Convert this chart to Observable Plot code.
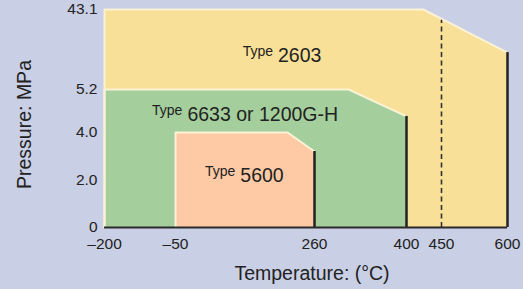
<!DOCTYPE html>
<html>
<head>
<meta charset="utf-8">
<script src="https://cdn.jsdelivr.net/npm/d3@7"></script>
<script src="https://cdn.jsdelivr.net/npm/@observablehq/plot@0.6"></script>
<style>
  html, body { margin: 0; padding: 0; background: #c9cfe4; }
  #chart { width: 523px; height: 289px; overflow: hidden; }
</style>
</head>
<body>
<div id="chart"></div>
<script>
// Tick values (axes are piecewise / non-linear in the original figure)
const tempTicks = [-200, -50, 260, 400, 450, 600];
const pressureTicks = [0, 2.0, 4.0, 5.2, 43.1];

// Region outlines (top boundary), temperature °C and pressure MPa
const type2603Temp = [-200, 424, 600];
const type2603Press = [43.1, 43.1, 22.7];
const type6633Temp = [-200, 312, 400];
const type6633Press = [5.2, 5.2, 4.45];
const type5600Temp = [-50, 200, 260];
const type5600Press = [4.0, 4.0, 3.2];

// Dashed reference line
const dashedTemp = [450];
const dashedTopPress = 38;

// Region labels
const typeNames = ["2603", "6633 or 1200G-H", "5600"];
const labelTemp = [173, -29, 89];
const labelPress = [18.1, 4.31, 1.91];

const xLabel = "Temperature: (°C)";
const yLabel = "Pressure: MPa";

const regions = [
  {t: type2603Temp, p: type2603Press, fill: "#f8e098"},
  {t: type6633Temp, p: type6633Press, fill: "#a4cf9c"},
  {t: type5600Temp, p: type5600Press, fill: "#fecaa6"}
].map(r => ({...r, pts: r.t.map((t, i) => ({t, p: r.p[i]}))}));

const labels = typeNames.map((name, i) => ({name, t: labelTemp[i], p: labelPress[i]}));

const marks = [];
for (const r of regions) {
  marks.push(Plot.areaY(r.pts, {x: "t", y1: 0, y2: "p", fill: r.fill}));
}
for (const r of regions) {
  const outline = [{t: r.t[0], p: 0}, ...r.pts];
  marks.push(Plot.line(outline, {x: "t", y: "p", stroke: "#fbf2d6", strokeWidth: 2}));
}
for (const r of regions) {
  const last = r.pts[r.pts.length - 1];
  marks.push(Plot.ruleX([last], {x: "t", y1: 0, y2: "p", stroke: "#222", strokeWidth: 2.5}));
}
marks.push(Plot.ruleX(dashedTemp, {y1: 0, y2: dashedTopPress, stroke: "#333", strokeWidth: 1.6, strokeDasharray: "5,3.5"}));
marks.push(Plot.ruleY([0], {stroke: "#2a2a2a", strokeWidth: 2}));

marks.push(Plot.text(labels, {x: "t", y: "p", text: () => "Type", textAnchor: "end", lineAnchor: "bottom", dx: -2.5, dy: -6, fontSize: 14, fill: "#222"}));
marks.push(Plot.text(labels, {x: "t", y: "p", text: "name", textAnchor: "start", lineAnchor: "bottom", dx: 2.5, fontSize: 19.5, fill: "#222"}));

marks.push(Plot.axisX({ticks: tempTicks, tickSize: 0, tickPadding: 10, label: null, tickFormat: d => d < 0 ? "\u2013" + Math.abs(d) : String(d), fontSize: 15.5, fill: "#222"}));
marks.push(Plot.axisY({ticks: pressureTicks, tickSize: 0, tickPadding: 7, label: null, tickFormat: d => d === 0 ? "0" : d.toFixed(1), fontSize: 15.5, fill: "#222"}));

marks.push(Plot.text([xLabel], {frameAnchor: "bottom", textAnchor: "middle", lineAnchor: "bottom", dx: 6, dy: 52, fontSize: 19.5, fill: "#222"}));
marks.push(Plot.text([yLabel], {frameAnchor: "left", textAnchor: "middle", lineAnchor: "bottom", rotate: -90, dx: -74, dy: 6, fontSize: 19.5, fill: "#222"}));

const chart = Plot.plot({
  width: 523,
  height: 289,
  marginLeft: 104,
  marginRight: 16,
  marginTop: 9,
  marginBottom: 62,
  style: {background: "#c9cfe4", fontFamily: "'Liberation Sans', Arial, Helvetica, sans-serif", color: "#222"},
  x: {type: "linear", domain: tempTicks, range: [104, 175, 314, 406, 441, 507]},
  y: {type: "linear", domain: [0, 4.0, 5.2, 43.1], range: [227, 132, 89, 9]},
  marks
});
document.getElementById("chart").appendChild(chart);
</script>
</body>
</html>
